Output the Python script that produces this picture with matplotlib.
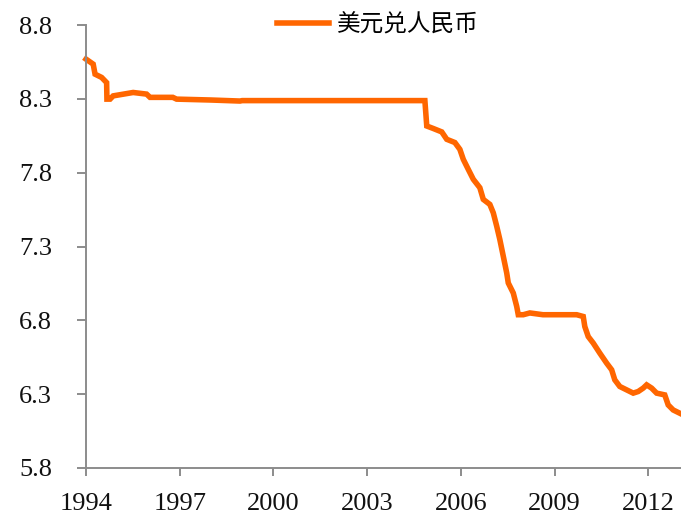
import matplotlib
matplotlib.use("Agg")
import matplotlib.pyplot as plt
from matplotlib.ticker import FixedLocator, FormatStrFormatter

# Data (year as decimal, USD/CNY rate)
years = [1994.00, 1994.23, 1994.29, 1994.50, 1994.66, 1994.67, 1994.77, 1994.87,
         1995.51, 1995.94, 1996.05, 1996.78, 1996.90, 1998.00, 1998.93, 1999.00,
         2001.00, 2003.00, 2004.85, 2004.91, 2005.12, 2005.39, 2005.55, 2005.81,
         2005.97, 2006.08, 2006.24, 2006.40, 2006.61, 2006.72, 2006.93, 2007.04,
         2007.15, 2007.25, 2007.36, 2007.47, 2007.52, 2007.68, 2007.79, 2007.84,
         2008.00, 2008.21, 2008.63, 2009.71, 2009.92, 2009.97, 2010.08, 2010.24,
         2010.45, 2010.67, 2010.83, 2010.93, 2011.09, 2011.31, 2011.52, 2011.68,
         2011.84, 2011.95, 2012.11, 2012.27, 2012.53, 2012.64, 2012.80, 2013.01]
rates = [8.569, 8.535, 8.467, 8.445, 8.410, 8.298, 8.298, 8.320,
         8.343, 8.332, 8.310, 8.310, 8.298, 8.292, 8.285, 8.288,
         8.288, 8.288, 8.288, 8.116, 8.099, 8.076, 8.026, 8.004,
         7.958, 7.890, 7.822, 7.755, 7.698, 7.619, 7.585, 7.528,
         7.437, 7.347, 7.234, 7.121, 7.053, 6.985, 6.894, 6.838,
         6.838, 6.850, 6.838, 6.838, 6.826, 6.758, 6.690, 6.646,
         6.578, 6.510, 6.465, 6.397, 6.352, 6.329, 6.307, 6.318,
         6.341, 6.363, 6.341, 6.307, 6.295, 6.227, 6.193, 6.171]
series_name = "美元兑人民币"
y_ticks = [5.8, 6.3, 6.8, 7.3, 7.8, 8.3, 8.8]
x_ticks = [1994, 1997, 2000, 2003, 2006, 2009, 2012]

fig = plt.figure(figsize=(6.81, 5.15), dpi=100)
ax = fig.add_axes([86 / 681, 1 - 468 / 515, 1 - 86 / 681, (468 - 25) / 515])

line, = ax.plot(years, rates, color="#FF6600", lw=4.0, solid_joinstyle="miter",
                label=series_name, clip_on=False)

ax.set_xlim(1994, 2013.05)
ax.set_ylim(5.8, 8.8)
ax.yaxis.set_major_locator(FixedLocator(y_ticks))
ax.xaxis.set_major_locator(FixedLocator(x_ticks))
ax.yaxis.set_major_formatter(FormatStrFormatter("%.1f"))
ax.xaxis.set_major_formatter(FormatStrFormatter("%d"))

for s in ["top", "right"]:
    ax.spines[s].set_visible(False)
for s in ["left", "bottom"]:
    ax.spines[s].set_color("#8c8c8c")
    ax.spines[s].set_linewidth(1.4)

ax.tick_params(axis="both", direction="out", color="#8c8c8c", width=1.4,
               labelcolor="#111111")
ax.tick_params(axis="y", length=6.5, pad=18)
ax.tick_params(axis="x", length=6, pad=12)
for lab in ax.get_xticklabels() + ax.get_yticklabels():
    lab.set_family("Liberation Serif")
    lab.set_fontsize(19)

fig.legend(handles=[line], loc="center", bbox_to_anchor=(378 / 681, 1 - 25 / 515),
           frameon=False, prop={"family": ["Noto Sans CJK SC", "DejaVu Sans"], "size": 17},
           handlelength=2.2, handletextpad=0.35, borderpad=0)

fig.savefig("out.png", dpi=100)
